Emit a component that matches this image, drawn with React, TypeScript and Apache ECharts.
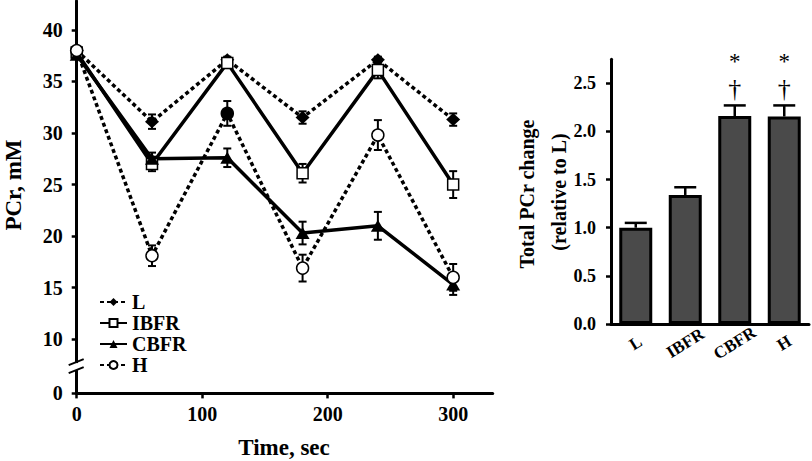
import React, { useEffect, useRef } from 'react';
import * as echarts from 'echarts';

// ---- Left panel data (PCr, mM vs time) ----
const times = [0, 60, 120, 180, 240, 300];
const lValues = [38.0, 31.1, 37.1, 31.5, 37.1, 31.3];
const lErrors = [0.3, 0.7, 0.3, 0.6, 0.3, 0.6];
const ibfrValues = [37.8, 27.0, 36.8, 26.1, 36.1, 25.0];
const ibfrErrors = [0.3, 0.7, 0.5, 0.9, 0.8, 1.3];
const cbfrValues = [37.6, 27.5, 27.6, 20.3, 21.0, 15.3];
const cbfrErrors = [0.3, 0.6, 0.9, 1.1, 1.35, 1.0];
const hValues = [38.0, 18.1, 31.9, 16.9, 29.8, 16.0];
const hErrors = [0.3, 1.0, 1.2, 1.3, 1.45, 1.3];
const hFilled = [false, false, true, false, false, false];

// axis position that carries the "0" label below the axis break
const brokenZero = 4.75;
const leftYTicks = [brokenZero, 10, 15, 20, 25, 30, 35, 40];
const leftXTicks = [0, 100, 200, 300];

// ---- Right panel data (Total PCr change relative to L) ----
const barCategories = ['L', 'IBFR', 'CBFR', 'H'];
const barValues = [1.0, 1.34, 2.16, 2.155];
const barErrors = [0.05, 0.08, 0.11, 0.115];
const barSignificant = [false, false, true, true];
const rightYTicks = [0, 0.5, 1.0, 1.5, 2.0, 2.5];

const FONT = '"Liberation Serif", "DejaVu Serif", serif';

export default function App() {
  const ref = useRef<HTMLDivElement>(null);

  useEffect(() => {
    document.body.style.margin = '0';
    if (!ref.current) return;
    const chart = echarts.init(ref.current, null, { renderer: 'svg' });

    const errRender = (capW: number) => (params: any, api: any) => {
      const x = api.value(0);
      const y = api.value(1);
      const e = api.value(2);
      const top = api.coord([x, y + e]);
      const bot = api.coord([x, y - e]);
      const style = { stroke: '#000', lineWidth: 2 };
      return {
        type: 'group',
        children: [
          { type: 'line', shape: { x1: top[0], y1: top[1], x2: bot[0], y2: bot[1] }, style },
          { type: 'line', shape: { x1: top[0] - capW / 2, y1: top[1], x2: top[0] + capW / 2, y2: top[1] }, style },
          { type: 'line', shape: { x1: bot[0] - capW / 2, y1: bot[1], x2: bot[0] + capW / 2, y2: bot[1] }, style },
        ],
      };
    };

    const barErrRender = (params: any, api: any) => {
      const i = api.value(0);
      const v = api.value(1);
      const e = api.value(2);
      const sig = api.value(3);
      const base = api.coord([i, v]);
      const top = api.coord([i, v + e]);
      const style = { stroke: '#000', lineWidth: 2.5 };
      const children: any[] = [
        { type: 'line', shape: { x1: base[0], y1: base[1], x2: top[0], y2: top[1] }, style },
        { type: 'line', shape: { x1: top[0] - 11, y1: top[1], x2: top[0] + 11, y2: top[1] }, style },
      ];
      if (sig) {
        const split = top[1] - 31;
        children.push({
          type: 'text', x: top[0], y: split - 1,
          style: { text: '*', fontSize: 23, fontFamily: FONT, fill: '#000', align: 'center', verticalAlign: 'bottom' },
        });
        children.push({
          type: 'text', x: top[0], y: split + 1,
          style: { text: '†', fontSize: 26, fontFamily: FONT, fill: '#000', align: 'center', verticalAlign: 'top' },
        });
      }
      return { type: 'group', children };
    };

    const mk = (vals: number[]) => times.map((t, i) => [t, vals[i]]);
    const mkErr = (vals: number[], errs: number[]) => times.map((t, i) => [t, vals[i], errs[i]]);

    const dotted = { color: '#000', width: 3.5, type: [4, 3] as any, cap: 'butt' };
    const solid = { color: '#000', width: 3.5, type: 'solid' };

    const axisTextStyle = { color: '#000', fontFamily: FONT, fontWeight: 'bold' as const };

    const option: any = {
      animation: false,
      backgroundColor: '#fff',
      grid: [
        { left: 76.7, right: 319.3, top: 1, bottom: 67.6, outerBoundsMode: 'none' },
        { left: 611, right: 3, top: 59.2, bottom: 137, outerBoundsMode: 'none' },
      ],
      xAxis: [
        {
          type: 'value', gridIndex: 0, min: 0, max: 331.5,
          axisLine: { show: true, onZero: false, lineStyle: { color: '#000', width: 3 } },
          axisTick: { show: true, length: 5, inside: false, customValues: leftXTicks, lineStyle: { color: '#000', width: 2.5 } },
          axisLabel: { show: true, customValues: leftXTicks, margin: 11, fontSize: 20, ...axisTextStyle },
          splitLine: { show: false },
        },
        {
          type: 'category', gridIndex: 1, data: barCategories,
          axisLine: { show: true, lineStyle: { color: '#000', width: 3 } },
          axisTick: { show: false },
          axisLabel: { rotate: 32, margin: 19, fontSize: 17, align: 'center', verticalAlign: 'middle', ...axisTextStyle },
          splitLine: { show: false },
        },
      ],
      yAxis: [
        {
          type: 'value', gridIndex: 0, min: brokenZero, max: 42.8,
          axisLine: { show: true, onZero: false, lineStyle: { color: '#000', width: 3 } },
          axisTick: { show: true, length: 5, customValues: leftYTicks, lineStyle: { color: '#000', width: 2.5 } },
          axisLabel: {
            show: true, customValues: leftYTicks, margin: 14, fontSize: 20, ...axisTextStyle,
            formatter: (v: number) => (v < 10 ? '0' : String(v)),
          },
          splitLine: { show: false },
        },
        {
          type: 'value', gridIndex: 1, min: 0, max: 2.75,
          axisLine: { show: true, lineStyle: { color: '#000', width: 3 } },
          axisTick: { show: true, length: 5, customValues: rightYTicks, lineStyle: { color: '#000', width: 2.5 } },
          axisLabel: {
            show: true, customValues: rightYTicks, margin: 15, fontSize: 18, ...axisTextStyle,
            formatter: (v: number) => v.toFixed(1),
          },
          splitLine: { show: false },
        },
      ],
      legend: {
        data: ['L', 'IBFR', 'CBFR', 'H'],
        orient: 'vertical', left: 94, top: 287,
        itemWidth: 27, itemHeight: 10, itemGap: 1,
        textStyle: { color: '#000', fontFamily: FONT, fontWeight: 'bold', fontSize: 20 },
      },
      series: [
        { type: 'custom', xAxisIndex: 0, yAxisIndex: 0, renderItem: errRender(8), data: mkErr(lValues, lErrors), encode: { x: 0, y: 1 }, silent: true },
        { type: 'custom', xAxisIndex: 0, yAxisIndex: 0, renderItem: errRender(8), data: mkErr(ibfrValues, ibfrErrors), encode: { x: 0, y: 1 }, silent: true },
        { type: 'custom', xAxisIndex: 0, yAxisIndex: 0, renderItem: errRender(8), data: mkErr(cbfrValues, cbfrErrors), encode: { x: 0, y: 1 }, silent: true },
        { type: 'custom', xAxisIndex: 0, yAxisIndex: 0, renderItem: errRender(8), data: mkErr(hValues, hErrors), encode: { x: 0, y: 1 }, silent: true },
        {
          name: 'L', type: 'line', xAxisIndex: 0, yAxisIndex: 0, data: mk(lValues),
          symbol: 'diamond', symbolSize: [14, 13], showAllSymbol: true,
          lineStyle: dotted, itemStyle: { color: '#000', borderColor: '#000', borderWidth: 0 },
        },
        {
          name: 'IBFR', type: 'line', xAxisIndex: 0, yAxisIndex: 0, data: mk(ibfrValues),
          symbol: 'rect', symbolSize: 11, showAllSymbol: true,
          lineStyle: solid, itemStyle: { color: '#fff', borderColor: '#000', borderWidth: 1.5 },
        },
        {
          name: 'CBFR', type: 'line', xAxisIndex: 0, yAxisIndex: 0, data: mk(cbfrValues),
          symbol: 'triangle', symbolSize: [14, 12], showAllSymbol: true,
          lineStyle: solid, itemStyle: { color: '#000', borderColor: '#000', borderWidth: 0 },
        },
        {
          name: 'H', type: 'line', xAxisIndex: 0, yAxisIndex: 0,
          data: times.map((t, i) => ({
            value: [t, hValues[i]],
            itemStyle: hFilled[i] ? { color: '#000' } : undefined,
          })),
          symbol: 'circle', symbolSize: 12, showAllSymbol: true,
          lineStyle: dotted, itemStyle: { color: '#fff', borderColor: '#000', borderWidth: 1.5 },
        },
        {
          type: 'bar', xAxisIndex: 1, yAxisIndex: 1, data: barValues, barWidth: 33,
          itemStyle: { color: '#4a4a4a', borderColor: '#000', borderWidth: 3 },
        },
        {
          type: 'custom', xAxisIndex: 1, yAxisIndex: 1, renderItem: barErrRender,
          data: barCategories.map((c, i) => [i, barValues[i], barErrors[i], barSignificant[i] ? 1 : 0]),
          encode: { x: 0, y: 1 }, silent: true, z: 5,
        },
      ],
    };

    chart.setOption(option);

    const p = chart.convertToPixel({ xAxisIndex: 0, yAxisIndex: 0 }, [0, 7.4]) as number[];
    const titleStyle = { fill: '#000000', fontFamily: FONT, fontWeight: 'bold', align: 'center', verticalAlign: 'middle' };
    chart.setOption({
      graphic: [
        { type: 'text', x: 13, y: 185, rotation: Math.PI / 2, style: { ...titleStyle, text: 'PCr, mM', fontSize: 23 } },
        { type: 'text', x: 284, y: 447, style: { ...titleStyle, text: 'Time, sec', fontSize: 23 } },
        { type: 'text', x: 527, y: 194, rotation: Math.PI / 2, style: { ...titleStyle, text: 'Total PCr change', fontSize: 20 } },
        { type: 'text', x: 559, y: 192, rotation: Math.PI / 2, style: { ...titleStyle, text: '(relative to L)', fontSize: 20 } },
        { type: 'rect', shape: { x: p[0] - 4, y: p[1] - 3, width: 8, height: 7 }, style: { fill: '#fff' }, z: 100 },
        { type: 'line', shape: { x1: p[0] - 8, y1: p[1] - 1, x2: p[0] + 7, y2: p[1] - 7 }, style: { stroke: '#000', lineWidth: 2 }, z: 101 },
        { type: 'line', shape: { x1: p[0] - 8, y1: p[1] + 7, x2: p[0] + 7, y2: p[1] + 1 }, style: { stroke: '#000', lineWidth: 2 }, z: 101 },
      ],
    });

    return () => chart.dispose();
  }, []);

  return <div ref={ref} style={{ width: 812, height: 461 }} />;
}
